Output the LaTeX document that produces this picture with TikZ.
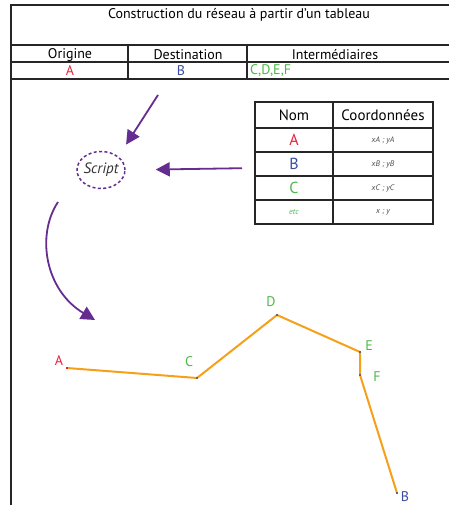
\documentclass[tikz,border=0pt]{standalone}
\usepackage{fontspec}
\setmainfont{PT Sans}
\usepackage{xcolor}
\usetikzlibrary{arrows.meta,positioning,shapes.geometric}
\definecolor{ptRed}{HTML}{E8203A}
\definecolor{ptBlue}{HTML}{3B4BA0}
\definecolor{ptGreen}{HTML}{4CB848}
\definecolor{routeOrange}{HTML}{F6A01A}
\definecolor{flowPurple}{HTML}{662D91}
\tikzset{
  frame/.style={draw=black!85, line width=1.8pt},
  txt/.style={inner sep=0pt, font=\fontsize{14}{16}\selectfont},
  tabcell/.style={
    draw=black!85,
    line width=1.4pt,
    minimum height=24pt,
    inner sep=0pt,
    outer sep=0pt,
    font=\fontsize{16}{18}\selectfont
  },
  nomcell/.style={tabcell, minimum width=78pt},
  coordcell/.style={tabcell, minimum width=100pt, font=\itshape\fontsize{8}{10}\selectfont, text=black!70},
  script/.style={
    ellipse,
    draw=flowPurple,
    line width=1.5pt,
    dash pattern=on 3pt off 2.4pt,
    minimum width=48pt,
    minimum height=37pt,
    inner sep=-6pt,
    font=\itshape\fontsize{15}{17}\selectfont,
    text=black!80
  },
  flow/.style={-{Triangle[length=14pt, width=14pt]}, line width=1.8pt, draw=flowPurple},
  route/.style={draw=routeOrange, line width=2pt, line join=round},
  stn/.style={inner sep=0pt, font=\fontsize{14}{16}\selectfont},
  tick/.style={fill=black!60, inner sep=0pt, minimum size=2.4pt}
}

\begin{document}
\begin{tikzpicture}[x=1pt, y=-1pt, node distance=0pt and 0pt]
\useasboundingbox (0,0) rectangle (449,505);
\clip (0,0) rectangle (449,505);

% header table
\draw[frame] (449,5) -- (11,5) -- (11,505);
\draw[frame] (11,45) -- (449,45);
\draw[frame] (11,62) -- (449,62);
\draw[frame] (11,79) -- (449,79);
\draw[frame] (128,45) -- (128,79);
\draw[frame] (247,45) -- (247,79);

\node[txt] (title) at (239,15) {Construction du réseau à partir d'un tableau};
\node[txt] (origH) at (70,55) {Origine};
\node[txt] (destH) at (188,55) {Destination};
\node[txt] (interH) at (335,55) {Intermédiaires};
\node[txt, text=ptRed] (origA) at (70,71) {A};
\node[txt, text=ptBlue] (destB) at (181,71) {B};
\node[txt, text=ptGreen, anchor=west] (interCF) at (250,71) {C,D,E,F};

% coordinates table
\node[nomcell, minimum height=26pt, anchor=north west, font=\fontsize{15}{17}\selectfont] (nomH) at (255,102) {Nom};
\node[coordcell, minimum height=26pt, right=of nomH, font=\fontsize{15}{17}\selectfont, text=black] (coordH) {Coordonnées};
\node[nomcell, below=of nomH, text=ptRed] (nomA) {A};
\node[coordcell, right=of nomA] (coordA) {xA ; yA};
\node[nomcell, below=of nomA, text=ptBlue] (nomB) {B};
\node[coordcell, right=of nomB] (coordB) {xB ; yB};
\node[nomcell, below=of nomB, text=ptGreen] (nomC) {C};
\node[coordcell, right=of nomC] (coordC) {xC ; yC};
\node[nomcell, below=of nomC, text=ptGreen, font=\itshape\fontsize{8}{10}\selectfont] (nomEtc) {etc};
\node[coordcell, right=of nomEtc] (coordEtc) {x ; y};

% script
\node[script] (script) at (101,170) {Script};
\coordinate (fromHead) at (158,95);
\coordinate (fromScript) at (58,202);
\coordinate (toMap) at (95,320);

\draw[flow, shorten >=14pt] (fromHead) -- (script.north east);
\draw[flow, shorten <=13pt, shorten >=30pt] ([yshift=-4pt]nomB.west) -- (script.east);
\draw[flow] (fromScript) .. controls (36,235) and (45,290) .. (toMap);

% route
\coordinate (A) at (67,368);
\coordinate (C) at (197,378);
\coordinate (D) at (277,315);
\coordinate (E) at (360,352);
\coordinate (F) at (360,375);
\coordinate (B) at (397,493);
\draw[route] (A) -- (C) -- (D) -- (E) -- (F) -- (B);
\foreach \p in {C,D,E,F,B} {
  \node[tick] at (\p) {};
}
\node[tick, fill=ptRed] at (A) {};

\node[stn, text=ptRed] (labA) at (59,361) {A};
\node[stn, text=ptGreen] (labC) at (189,362) {C};
\node[stn, text=ptGreen] (labD) at (271,302) {D};
\node[stn, text=ptGreen] (labE) at (369,346) {E};
\node[stn, text=ptGreen] (labF) at (377,377) {F};
\node[stn, text=ptBlue] (labB) at (405,497) {B};
\end{tikzpicture}
\end{document}
